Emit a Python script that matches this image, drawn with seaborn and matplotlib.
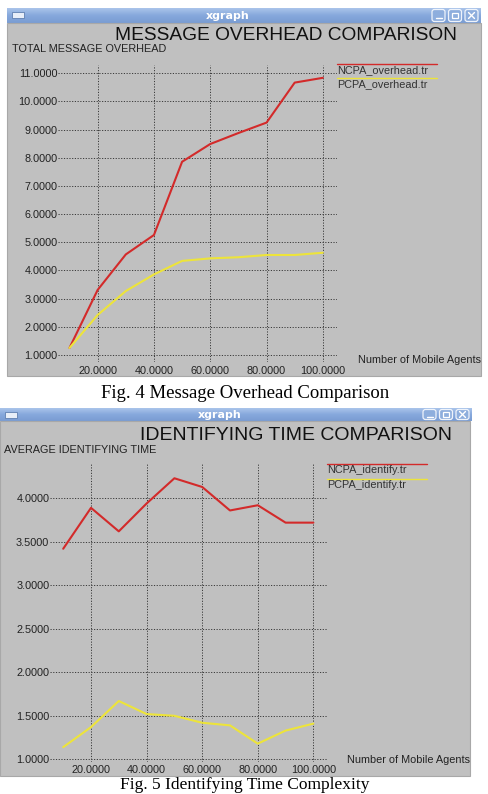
import numpy as np
import pandas as pd
import matplotlib
matplotlib.use("Agg")
import matplotlib.pyplot as plt
import seaborn as sns
from matplotlib.patches import Rectangle, FancyBboxPatch

# ---------------- data ----------------
agents = [10, 20, 30, 40, 50, 60, 70, 80, 90, 100]
ncpa_overhead = [1.25, 3.31, 4.57, 5.26, 7.86, 8.49, 8.88, 9.25, 10.67, 10.84]
pcpa_overhead = [1.25, 2.42, 3.27, 3.86, 4.34, 4.43, 4.47, 4.55, 4.55, 4.63]
ncpa_identify = [3.42, 3.89, 3.62, 3.94, 4.23, 4.13, 3.86, 3.92, 3.72, 3.72]
pcpa_identify = [1.14, 1.37, 1.67, 1.52, 1.50, 1.42, 1.39, 1.18, 1.33, 1.41]

x_ticks = [20, 40, 60, 80, 100]
y_ticks_overhead = [1, 2, 3, 4, 5, 6, 7, 8, 9, 10, 11]
y_ticks_identify = [1.0, 1.5, 2.0, 2.5, 3.0, 3.5, 4.0]

series_overhead = ["NCPA_overhead.tr", "PCPA_overhead.tr"]
series_identify = ["NCPA_identify.tr", "PCPA_identify.tr"]

RED = "#d32a2a"
YELLOW = "#ede43a"
GRAY = "#c0c0c0"

sns.set_theme(style="white")
plt.rcParams["font.family"] = ["Liberation Sans", "DejaVu Sans"]

W, H = 488, 794
fig = plt.figure(figsize=(W / 100, H / 100), dpi=100)
fig.patch.set_facecolor("white")

# pixel-coordinate background axes for the window decorations
bg = fig.add_axes([0, 0, 1, 1], zorder=0)
bg.set_xlim(0, W)
bg.set_ylim(H, 0)
bg.axis("off")


def window(x0, x1, ytb0, ytb1, ybody1, xbody1, title_cx):
    grad = np.linspace(0, 1, 20).reshape(-1, 1)
    cmap = matplotlib.colors.LinearSegmentedColormap.from_list(
        "tb", ["#a9c3ea", "#86a8dc", "#7a9dd3"])
    bg.imshow(grad, extent=(x0, x1, ytb1, ytb0), cmap=cmap, aspect="auto",
              zorder=1)
    bg.add_patch(Rectangle((x0, ytb1), xbody1 - x0, ybody1 - ytb1,
                           facecolor=GRAY, edgecolor="#a8a8a8", lw=0.8,
                           zorder=1))
    bg.add_patch(Rectangle((x0 + 5, ytb0 + 4), 12, 6, facecolor="#e8eef8",
                           edgecolor="#5f7fb0", lw=0.6, zorder=2))
    bw = 13
    bh = (ytb1 - ytb0) - 3
    for i in range(3):
        bx = x1 - 3 - (3 - i) * (bw + 3.5) + 3.5
        by = ytb0 + 1.5
        bg.add_patch(FancyBboxPatch((bx, by), bw, bh,
                                    boxstyle="round,pad=0,rounding_size=2.5",
                                    facecolor="#8eaedd", edgecolor="#eef3fb",
                                    lw=0.9, zorder=2))
        cx, cy = bx + bw / 2, by + bh / 2
        if i == 0:
            bg.plot([cx - 3, cx + 3], [cy + 2.5, cy + 2.5], color="white",
                    lw=1.0, zorder=3)
        elif i == 1:
            bg.add_patch(Rectangle((cx - 3, cy - 2.5), 6, 5, facecolor="none",
                                   edgecolor="white", lw=0.9, zorder=3))
        else:
            bg.plot([cx - 3, cx + 3], [cy - 3, cy + 3], color="white",
                    lw=1.0, zorder=3)
            bg.plot([cx - 3, cx + 3], [cy + 3, cy - 3], color="white",
                    lw=1.0, zorder=3)
    bg.text(title_cx, (ytb0 + ytb1) / 2 + 0.5, "xgraph", color="white",
            fontsize=8, fontweight="bold", family="DejaVu Sans",
            ha="center", va="center", zorder=3)


window(7, 481, 8, 23, 376, 481, 228)
window(0, 472, 408, 421, 776, 470, 220)

# titles
bg.text(286, 36, "MESSAGE OVERHEAD COMPARISON", fontsize=13.8,
        ha="center", va="center", color="#111111", zorder=3)
bg.text(296, 436, "IDENTIFYING TIME COMPARISON", fontsize=14,
        ha="center", va="center", color="#111111", zorder=3)
bg.text(12, 49, "TOTAL MESSAGE OVERHEAD", fontsize=7.8, ha="left",
        va="center", color="#222222", zorder=3)
bg.text(4, 450, "AVERAGE IDENTIFYING TIME", fontsize=7.8, ha="left",
        va="center", color="#222222", zorder=3)
bg.text(481, 360, "Number of Mobile Agents", fontsize=7.8, ha="right",
        va="center", color="#222222", zorder=3)
bg.text(470, 760, "Number of Mobile Agents", fontsize=7.8, ha="right",
        va="center", color="#222222", zorder=3)

# captions
bg.text(245, 394, "Fig. 4 Message Overhead Comparison", fontsize=13.5,
        family="Liberation Serif", ha="center", va="center", color="black",
        zorder=3)
bg.text(245, 793, "Fig. 5 Identifying Time Complexity", fontsize=12.5,
        family="Liberation Serif", ha="center", va="bottom", color="black",
        zorder=3)


def legend(x, y_first, names, colors, step):
    for i, (n, c) in enumerate(zip(names, colors)):
        y = y_first + i * step
        bg.plot([x, x + 100], [y, y], color=c, lw=1.0, zorder=3)
        bg.text(x, y + 5.5, n, fontsize=7.8, ha="left", va="center",
                color="#333333", zorder=3)


legend(337, 64.3, series_overhead, [RED, YELLOW], 14)
legend(327, 464.3, series_identify, [RED, YELLOW], 14.7)


def make_ax(left, right, top, bottom, xlim, ylim):
    ax = fig.add_axes([left / W, 1 - bottom / H, (right - left) / W,
                       (bottom - top) / H], zorder=2)
    ax.set_facecolor("none")
    ax.set_xlim(*xlim)
    ax.set_ylim(*ylim)
    for s in ax.spines.values():
        s.set_visible(False)
    return ax


def style_ax(ax, yticks, ypad, xpad):
    ax.set_xticks(x_ticks)
    ax.set_xticklabels([f"{t:.4f}" for t in x_ticks])
    ax.set_yticks(yticks)
    ax.set_yticklabels([f"{t:.4f}" for t in yticks])
    ax.tick_params(axis="both", length=0, labelsize=7.8,
                   labelcolor="#222222")
    ax.tick_params(axis="y", pad=ypad)
    ax.tick_params(axis="x", pad=xpad)
    ax.grid(True, color="#3a3a3a", lw=0.7, linestyle=(0, (1.2, 1.6)))
    ax.set_xlabel("")
    ax.set_ylabel("")


# ---- chart 1 ----
ax1 = make_ax(58, 337, 65, 362, (5.915, 105.03), (0.751, 11.295))
df1 = pd.DataFrame({
    "agents": agents * 2,
    "value": ncpa_overhead + pcpa_overhead,
    "series": [series_overhead[0]] * len(agents) + [series_overhead[1]] * len(agents),
})
sns.lineplot(data=df1, x="agents", y="value", hue="series",
             palette={series_overhead[0]: RED, series_overhead[1]: YELLOW},
             ax=ax1, legend=False, linewidth=1.5)
style_ax(ax1, y_ticks_overhead, 0.5, 3)

# ---- chart 2 ----
ax2 = make_ax(50, 327, 464, 762, (5.25, 104.9), (0.969, 4.394))
df2 = pd.DataFrame({
    "agents": agents * 2,
    "value": ncpa_identify + pcpa_identify,
    "series": [series_identify[0]] * len(agents) + [series_identify[1]] * len(agents),
})
sns.lineplot(data=df2, x="agents", y="value", hue="series",
             palette={series_identify[0]: RED, series_identify[1]: YELLOW},
             ax=ax2, legend=False, linewidth=1.5)
style_ax(ax2, y_ticks_identify, 0.5, 2)

fig.savefig("out.png", dpi=100)
